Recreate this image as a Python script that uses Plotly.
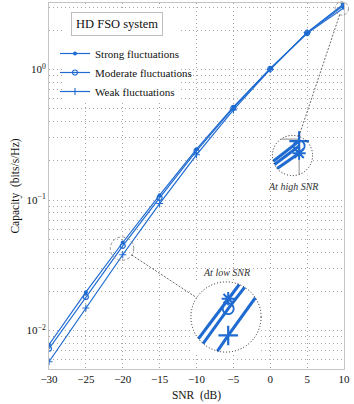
import math
import plotly.graph_objects as go

# ---------------- data ----------------
snr_db = [-30, -25, -20, -15, -10, -5, 0, 5, 10]
strong = [0.0078, 0.0197, 0.0473, 0.109, 0.245, 0.516, 1.02, 1.89, 2.97]
moderate = [0.00727, 0.0181, 0.0446, 0.104, 0.238, 0.508, 1.01, 1.90, 3.10]
weak = [0.00578, 0.0149, 0.0381, 0.094, 0.222, 0.49, 1.00, 1.92, 3.19]
series_names = ["Strong fluctuations", "Moderate fluctuations", "Weak fluctuations"]

x_ticks = [-30, -25, -20, -15, -10, -5, 0, 5, 10]
y_major = [0.01, 0.1, 1]
y_major_text = ["10<sup>\u22122</sup>", "10<sup>\u22121</sup>", "10<sup>0</sup>"]

# ---------------- layout constants ----------------
W, H = 354, 404
ML, MR, MT, MB = 49, 10, 3, 35
PW, PH = W - ML - MR, H - MT - MB
XMIN, XMAX = -30, 10
YTOP, YBOT = 0.509, -2.294  # log10 range

BLUE = "#1f6bd1"
FONT = "Liberation Serif, DejaVu Serif, serif"
GRID = dict(showgrid=True, gridcolor="#a6a6a6", griddash="1px,3px", gridwidth=1)

def px_x(x):
    return ML + (x - XMIN) / (XMAX - XMIN) * PW

def px_y(ly):
    return MT + (YTOP - ly) / (YTOP - YBOT) * PH

def paper_x(px):
    return (px - ML) / PW

def paper_y(py):
    return (H - MB - py) / PH

PX_PER_DB = PW / (XMAX - XMIN)
PX_PER_DEC = PH / (YTOP - YBOT)

# grid values on the log axis
y_grid = []
for e in (-3, -2, -1, 0):
    for k in range(1, 10):
        v = k * 10 ** e
        if YBOT <= math.log10(v) <= YTOP:
            y_grid.append(v)
y_grid_text = []
for v in y_grid:
    t = ""
    for mv, mt in zip(y_major, y_major_text):
        if abs(v - mv) < 1e-12:
            t = mt
    y_grid_text.append(t)

fig = go.Figure()

markers_main = [
    dict(symbol="circle", size=4, color=BLUE),
    dict(symbol="circle-open", size=5, color=BLUE, line=dict(width=1.2, color=BLUE)),
    dict(symbol="cross-thin-open", size=5, color=BLUE, line=dict(width=1.1, color=BLUE)),
]
markers_inset = [
    dict(symbol="asterisk-open", size=11, color=BLUE, line=dict(width=2, color=BLUE)),
    dict(symbol="circle-open", size=11, color=BLUE, line=dict(width=1.8, color=BLUE)),
    dict(symbol="cross-thin-open", size=14, color=BLUE, line=dict(width=2.2, color=BLUE)),
]
all_series = [strong, moderate, weak]

for name, ys, mk in zip(series_names, all_series, markers_main):
    fig.add_trace(go.Scatter(
        x=snr_db, y=ys, mode="lines+markers", name=name,
        line=dict(color=BLUE, width=1.2), marker=mk,
        xaxis="x", yaxis="y", showlegend=True,
    ))

# ---------------- insets ----------------
def clip_poly(xs, lys, xc, yc, rx, ry):
    outx, outy = [], []
    last = None
    for i in range(len(xs) - 1):
        x0, y0, x1, y1 = xs[i], lys[i], xs[i + 1], lys[i + 1]
        a0, a1 = (x0 - xc) / rx, (x1 - x0) / rx
        b0, b1 = (y0 - yc) / ry, (y1 - y0) / ry
        A = a1 * a1 + b1 * b1
        B = 2 * (a0 * a1 + b0 * b1)
        C = a0 * a0 + b0 * b0 - 1
        D = B * B - 4 * A * C
        if A == 0 or D <= 0:
            continue
        t0 = max((-B - math.sqrt(D)) / (2 * A), 0.0)
        t1 = min((-B + math.sqrt(D)) / (2 * A), 1.0)
        if t0 >= t1:
            continue
        p0 = (x0 + t0 * (x1 - x0), y0 + t0 * (y1 - y0))
        p1 = (x0 + t1 * (x1 - x0), y0 + t1 * (y1 - y0))
        if last is not None and abs(last[0] - p0[0]) < 1e-9 and abs(last[1] - p0[1]) < 1e-9:
            outx.append(p1[0]); outy.append(10 ** p1[1])
        else:
            if outx:
                outx.append(None); outy.append(None)
            outx += [p0[0], p1[0]]; outy += [10 ** p0[1], 10 ** p1[1]]
        last = p1
    return outx, outy

insets = [
    dict(src=(-20.1, -1.372), r_src=11.7, ctr=(226, 317), mag=3.0, label="At low SNR", lab_dy=-45,
         frame=False),
    dict(src=(9.70, 0.467), r_src=6.7, ctr=(292.5, 155.5), mag=3.0, label="At high SNR", lab_dy=31,
         frame=True),
]

shapes = []
annotations = []
layout_axes = {}

for k, ins in enumerate(insets):
    ax_id = k + 2
    xc, yc = ins["src"]
    r_in = ins["r_src"] * ins["mag"]
    rx = ins["r_src"] / PX_PER_DB
    ry = ins["r_src"] / PX_PER_DEC
    cx, cy = ins["ctr"]
    layout_axes[f"xaxis{ax_id}"] = dict(
        domain=[paper_x(cx - r_in), paper_x(cx + r_in)], range=[xc - rx, xc + rx],
        anchor=f"y{ax_id}", visible=False, fixedrange=True,
    )
    layout_axes[f"yaxis{ax_id}"] = dict(
        domain=[paper_y(cy + r_in), paper_y(cy - r_in)], range=[yc - ry, yc + ry], type="log",
        anchor=f"x{ax_id}", visible=False, fixedrange=True,
    )
    # white disc (inset background) as a single large marker
    fig.add_trace(go.Scatter(x=[xc], y=[10 ** yc], mode="markers",
                             marker=dict(symbol="circle", size=2 * r_in, color="white",
                                         line=dict(width=0)),
                             xaxis=f"x{ax_id}", yaxis=f"y{ax_id}", showlegend=False,
                             hoverinfo="skip", cliponaxis=False))
    # plot frame seen inside the inset
    if ins["frame"]:
        fx, fy = clip_poly([xc - 2 * rx, XMAX, XMAX], [YTOP, YTOP, yc - 2 * ry], xc, yc, rx, ry)
        fig.add_trace(go.Scatter(x=fx, y=fy, mode="lines", line=dict(color="#a0a0a0", width=1.2),
                                 xaxis=f"x{ax_id}", yaxis=f"y{ax_id}", showlegend=False,
                                 hoverinfo="skip"))
    for ys, mk in zip(all_series, markers_inset):
        lys = [math.log10(v) for v in ys]
        lx, ly = clip_poly(snr_db, lys, xc, yc, rx, ry)
        fig.add_trace(go.Scatter(x=lx, y=ly, mode="lines", line=dict(color=BLUE, width=3),
                                 xaxis=f"x{ax_id}", yaxis=f"y{ax_id}", showlegend=False,
                                 hoverinfo="skip"))
        inside = [((x - xc) / rx) ** 2 + ((l - yc) / ry) ** 2 <= 1 for x, l in zip(snr_db, lys)]
        mx = [x for x, ok in zip(snr_db, inside) if ok]
        my = [v for v, ok in zip(ys, inside) if ok]
        fig.add_trace(go.Scatter(x=mx, y=my, mode="markers", marker=mk, cliponaxis=False,
                                 xaxis=f"x{ax_id}", yaxis=f"y{ax_id}", showlegend=False))
    # dotted outline of the inset
    shapes.append(dict(type="circle", xref="paper", yref="paper",
                       x0=paper_x(cx - r_in), x1=paper_x(cx + r_in),
                       y0=paper_y(cy + r_in), y1=paper_y(cy - r_in),
                       line=dict(color="#222", width=1, dash="1px,2px"), layer="above"))
    # source circle on main plot
    sx, sy = px_x(xc), px_y(yc)
    rs = ins["r_src"]
    shapes.append(dict(type="circle", xref="paper", yref="paper",
                       x0=paper_x(sx - rs), x1=paper_x(sx + rs),
                       y0=paper_y(sy + rs), y1=paper_y(sy - rs),
                       line=dict(color="#8a8a8a", width=0.9, dash="3px,2px"), layer="above"))
    # connector
    dx, dy = cx - sx, cy - sy
    dl = math.hypot(dx, dy)
    ux, uy = dx / dl, dy / dl
    shapes.append(dict(type="line", xref="paper", yref="paper",
                       x0=paper_x(sx + rs * ux), y0=paper_y(sy + rs * uy),
                       x1=paper_x(cx - r_in * ux), y1=paper_y(cy - r_in * uy),
                       line=dict(color="#444", width=0.8, dash="2px,1.5px"), layer="above"))
    annotations.append(dict(xref="paper", yref="paper", x=paper_x(cx), y=paper_y(cy + ins["lab_dy"]),
                            text=f"<i>{ins['label']}</i>", showarrow=False,
                            font=dict(family=FONT, size=10, color="#333"),
                            xanchor="center", yanchor="middle"))

# white area behind legend
shapes.append(dict(type="rect", xref="paper", yref="paper",
                   x0=paper_x(62), x1=paper_x(178), y0=paper_y(103), y1=paper_y(8),
                   fillcolor="white", line=dict(width=0), layer="above"))
annotations.append(dict(xref="paper", yref="paper", x=paper_x(116.5), y=paper_y(23.5),
                        text="HD FSO system", showarrow=False,
                        font=dict(family=FONT, size=12.5, color="#111"),
                        bordercolor="#bdbdbd", borderwidth=1, borderpad=4, bgcolor="white",
                        xanchor="center", yanchor="middle"))

fig.update_layout(
    width=W, height=H, autosize=False,
    margin=dict(l=ML, r=MR, t=MT, b=MB),
    paper_bgcolor="white", plot_bgcolor="white",
    font=dict(family=FONT, size=11, color="#111"),
    shapes=shapes, annotations=annotations,
    legend=dict(x=paper_x(55), y=paper_y(39), xanchor="left", yanchor="top",
                bgcolor="rgba(0,0,0,0)", borderwidth=0, font=dict(family=FONT, size=11),
                tracegroupgap=0),
    xaxis=dict(
        domain=[0, 1], range=[XMIN, XMAX], tickvals=x_ticks, ticks="", **GRID,
        showline=True, mirror=True, linecolor="#c4c4c4", linewidth=1, zeroline=False,
        title=dict(text="SNR  (dB)", standoff=6, font=dict(size=11.5)), tickfont=dict(size=11),
        anchor="y", fixedrange=True,
    ),
    yaxis=dict(
        domain=[0, 1], type="log", range=[YBOT, YTOP], tickvals=y_grid, ticktext=y_grid_text,
        ticks="", **GRID,
        showline=True, mirror=True, linecolor="#c4c4c4", linewidth=1, zeroline=False,
        title=dict(text="Capacity  (bits/s/Hz)", standoff=4, font=dict(size=11.5)),
        tickfont=dict(size=11), anchor="x", fixedrange=True,
    ),
    **layout_axes,
)

fig.write_html("out.html", config={"displayModeBar": False},
               post_script="document.body.style.margin='0px';")
